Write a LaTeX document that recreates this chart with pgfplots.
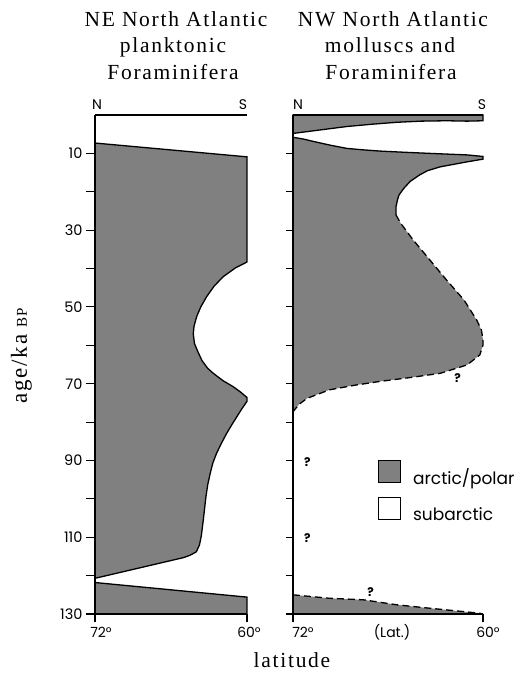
\documentclass[border=0pt]{standalone}
\usepackage{fontspec}
\usepackage{pgfplots}
\pgfplotsset{compat=1.18}
\setmainfont{Liberation Serif}
\newfontfamily\serifsp[LetterSpace=8]{Liberation Serif}
\newfontfamily\geo{Poppins}
\definecolor{arc}{gray}{0.5}

\pgfplotsset{
  panel/.style={
    scale only axis, height=499pt,
    xmin=60, xmax=72, ymin=0, ymax=130,
    x dir=reverse, y dir=reverse,
    axis line style={draw=none},
    xtick=\empty,
    ytick pos=left, tick align=outside,
    tick style={line width=1.1pt, black},
    /pgf/number format/assume math mode=true,
    yticklabel style={font=\geo\fontsize{14.5}{14.5}\selectfont},
    clip=false,
  },
  bound/.style={draw=black, line width=1.3pt},
  dashb/.style={draw=black, line width=1.3pt, dash pattern=on 7pt off 4pt},
}

\begin{document}
\begin{tikzpicture}[x=1pt,y=1pt]
\path[use as bounding box] (0,0) rectangle (522,678);

% NE North Atlantic
\begin{axis}[panel, at={(171pt,313.5pt)}, anchor=center, width=152pt,
  ytick={10,30,...,130}, minor ytick={20,40,...,120},
  major tick length=9pt, minor tick length=9pt]
\addplot[fill=arc, bound, forget plot] coordinates {
 (72,7.3) (60,10.9) (60,38.3) (60.9,39.8) (61.87,42.1) (62.6,44.6) (63.18,47.3)
 (63.65,50) (63.97,52.5) (64.18,55) (64.24,57) (64.15,59.5) (63.9,61.5)
 (63.55,64) (63.1,66) (62.66,67.3) (61.9,69.2) (61.08,70.8) (60.5,72.2) (60,73.6)
 (60,74.6) (60.4,76.5) (60.8,78.6) (61.2,80.7) (61.6,82.9) (62.0,85.4) (62.4,88.1)
 (62.7,90.7) (62.9,93.3) (63.1,96.3) (63.24,99.4) (63.45,105.5) (63.6,109.5)
 (63.75,112) (64.0,113.8) (64.5,114.7) (65,115.3) (72,120.7)} -- cycle;
\addplot[fill=arc, bound, forget plot] coordinates {
 (72,121.8) (60,125.6) (60,130) (72,130)} -- cycle;
\draw[line width=1.6pt] (axis cs:72,0) -- (axis cs:72,130);
\draw[line width=1.4pt] (axis cs:72,0) -- (axis cs:60,0);
\draw[line width=1.4pt] (axis cs:72,130) -- (axis cs:60,130);
\draw[line width=1.1pt] (axis cs:72,130) -- (axis cs:72,132.2);
\draw[line width=1.1pt] (axis cs:60,130) -- (axis cs:60,132.2);
\end{axis}

% NW North Atlantic
\begin{axis}[panel, at={(388pt,313.5pt)}, anchor=center, width=190pt,
  ytick={10,20,...,130}, yticklabels={},
  major tick length=7pt,
  legend cell align=left,
  legend image code/.code={\draw[#1] (0pt,-5pt) rectangle (22pt,17pt);},
  legend style={at={(axis cs:66.63,89.8)}, anchor=north west, draw=none,
    fill=none, inner sep=0pt, row sep=11pt,
    nodes={inner sep=0pt},
    /tikz/every odd column/.append style={column sep=12pt},
    font=\geo\fontsize{17}{17}\selectfont}]
\addplot[fill=arc, bound, forget plot] coordinates {
 (72,0) (60,0) (60,1.5) (61.0,1.6) (62.3,1.5) (63.9,1.6) (65.45,1.9)
 (67,2.4) (68.6,3.0) (70.3,3.9) (72,4.8)} -- cycle;
% main arctic body
\addplot[fill=arc, draw=none, forget plot] coordinates {
 (72,5.8) (71.3,6.3) (70.7,6.9) (69.6,7.9) (68.6,8.7) (67.5,9.1) (66.5,9.4)
 (65,9.7) (63.35,10.0) (61.0,10.4) (60,10.8) (60,11.5) (61.0,12.2) (62.7,13.5)
 (63.5,14.5) (64.0,15.6) (64.6,17.3) (65.0,19.1) (65.3,20.8) (65.4,22.1)
 (65.5,24) (65.5,26.0) (65.2,28.2) (64.8,30.4) (64.4,32.6) (63.35,37.8)
 (62.3,43.0) (61.2,48.2) (60.4,53.4) (60.1,56) (60.0,58.6) (60.0,59.9)
 (60.2,62.5) (61.0,65.1) (62.7,67.3) (64.6,68.4) (66.5,69.4) (68.1,70.4)
 (69.7,71.6) (71.1,73.8) (71.6,75.3) (72,77.3)} -- cycle;
\addplot[bound, forget plot] coordinates {
 (72,5.8) (71.3,6.3) (70.7,6.9) (69.6,7.9) (68.6,8.7) (67.5,9.1) (66.5,9.4)
 (65,9.7) (63.35,10.0) (61.0,10.4) (60,10.8) (60,11.5) (61.0,12.2) (62.7,13.5)
 (63.5,14.5) (64.0,15.6) (64.6,17.3) (65.0,19.1) (65.3,20.8) (65.4,22.1)
 (65.5,24) (65.5,26.0)};
\addplot[dashb, forget plot] coordinates {
 (65.5,26.0) (65.2,28.2) (64.8,30.4) (64.4,32.6) (63.35,37.8)
 (62.3,43.0) (61.2,48.2) (60.4,53.4) (60.1,56) (60.0,58.6) (60.0,59.9)
 (60.2,62.5) (61.0,65.1) (62.7,67.3) (64.6,68.4) (66.5,69.4) (68.1,70.4)
 (69.7,71.6) (71.1,73.8) (71.6,75.3) (72,77.3)};
% last interglacial wedge
\addplot[fill=arc, draw=none, forget plot] coordinates {
 (72,125.0) (69.7,125.9) (67.55,126.3) (65.45,127.6) (63.35,128.5)
 (60.2,129.8) (60,130) (72,130)} -- cycle;
\addplot[dashb, forget plot] coordinates {
 (72,125.0) (69.7,125.9) (67.55,126.3) (65.45,127.6) (63.35,128.5)
 (60.2,129.8) (60,130)};
\draw[line width=2pt] (axis cs:72,0) -- (axis cs:72,130);
\draw[line width=1.4pt] (axis cs:72,0) -- (axis cs:60,0);
\draw[line width=1.4pt] (axis cs:72,130) -- (axis cs:60,130);
\draw[line width=1.1pt] (axis cs:72,130) -- (axis cs:72,132.2);
\draw[line width=1.1pt] (axis cs:60,130) -- (axis cs:60,132.2);
\node[font=\geo\bfseries\fontsize{12}{12}\selectfont] at (axis cs:61.6,68.6) {?};
\node[font=\geo\bfseries\fontsize{12}{12}\selectfont] at (axis cs:71.1,90.3) {?};
\node[font=\geo\bfseries\fontsize{12}{12}\selectfont] at (axis cs:71.1,110.2) {?};
\node[font=\geo\bfseries\fontsize{12}{12}\selectfont] at (axis cs:67.1,124.4) {?};
\addlegendimage{fill=arc, draw=black, line width=0.9pt}
\addlegendentry{arctic/polar}
\addlegendimage{fill=white, draw=black, line width=0.9pt}
\addlegendentry{subarctic}
\end{axis}

% titles
\begin{scope}[every node/.style={anchor=base, inner sep=0pt,
    font=\serifsp\fontsize{21.5}{24}\selectfont}]
\node at (176,651) {NE North Atlantic};
\node at (173,625) {planktonic};
\node at (173,598) {Foraminifera};
\node at (393,651) {NW North Atlantic};
\node at (390,625) {molluscs and};
\node at (391,598) {Foraminifera};
\node at (292,10) {latitude};
\node[rotate=90, font=\serifsp\fontsize{23}{24}\selectfont] at (27,322)
  {age/ka\hspace{7pt}{\fontsize{15}{15}\selectfont BP}};
\end{scope}

% N/S and latitude labels
\begin{scope}[every node/.style={anchor=base, inner sep=0pt,
    font=\geo\fontsize{14}{14}\selectfont}]
\node at (97,568) {N};
\node at (243,568) {S};
\node at (298,568) {N};
\node at (482,568) {S};
\end{scope}
\begin{scope}[every node/.style={anchor=base, inner sep=0pt,
    font=\geo\fontsize{14}{14}\selectfont}]
\node at (101,40) {72°};
\node at (249,40) {60°};
\node at (303,40) {72°};
\node at (488,40) {60°};
\node at (392,40) {(Lat.)};
\end{scope}
\end{tikzpicture}
\end{document}
